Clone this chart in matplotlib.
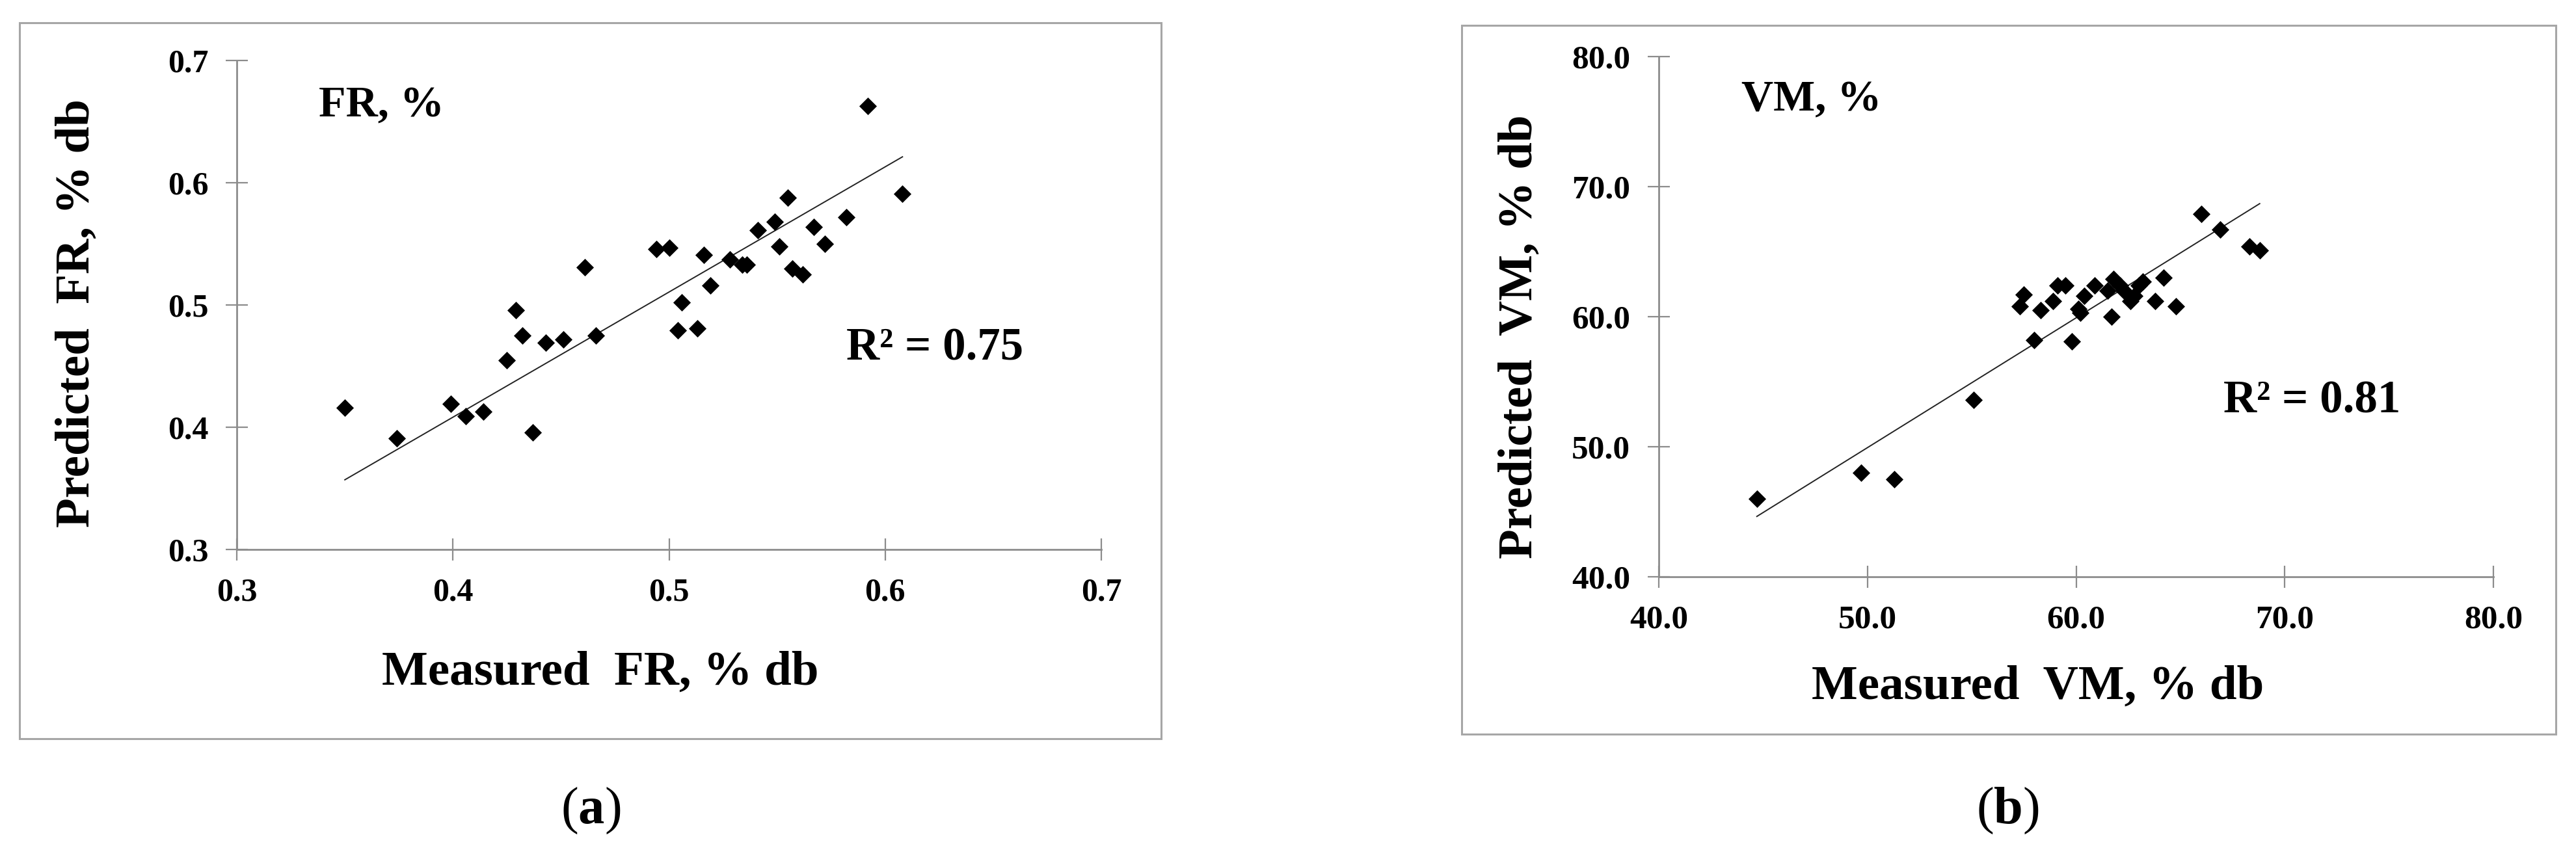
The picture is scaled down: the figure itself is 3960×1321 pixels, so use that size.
import numpy as np
import matplotlib
matplotlib.use("Agg")
import matplotlib.pyplot as plt
from matplotlib.patches import Rectangle

# (a) FR, measured vs predicted
fr_measured = [0.350, 0.374, 0.399, 0.406, 0.414, 0.437, 0.425, 0.429, 0.432, 0.443,
               0.451, 0.461, 0.466, 0.494, 0.500, 0.504, 0.506, 0.513, 0.516, 0.519,
               0.528, 0.534, 0.536, 0.541, 0.549, 0.551, 0.555, 0.557, 0.562, 0.567,
               0.572, 0.582, 0.592, 0.608]
fr_predicted = [0.416, 0.391, 0.419, 0.409, 0.413, 0.396, 0.455, 0.496, 0.475, 0.469,
                0.472, 0.531, 0.475, 0.546, 0.547, 0.479, 0.502, 0.481, 0.541, 0.516,
                0.537, 0.533, 0.533, 0.561, 0.568, 0.548, 0.588, 0.530, 0.525, 0.564,
                0.550, 0.572, 0.663, 0.591]
fr_trend = [1.024, -0.0014]   # slope, intercept of the drawn trendline

# (b) VM, measured vs predicted
vm_measured = [44.7, 49.7, 51.3, 55.1, 57.3, 57.5, 58.0, 58.3, 58.9, 59.1,
               59.5, 59.8, 60.1, 60.2, 60.4, 60.9, 61.5, 61.7, 61.8, 62.1,
               62.3, 62.6, 62.8, 63.0, 63.2, 63.8, 64.2, 64.8, 66.0, 66.9,
               68.3, 68.8]
vm_predicted = [46.0, 48.0, 47.5, 53.6, 60.8, 61.7, 58.2, 60.5, 61.2, 62.4,
                62.4, 58.1, 60.6, 60.3, 61.6, 62.4, 62.0, 60.0, 62.9, 62.4,
                62.0, 61.2, 61.6, 62.4, 62.7, 61.2, 63.0, 60.8, 67.9, 66.7,
                65.4, 65.1]
vm_trend = [0.998, 0.03]

fr_ticks = [0.3, 0.4, 0.5, 0.6, 0.7]
vm_ticks = [40.0, 50.0, 60.0, 70.0, 80.0]
r2_labels = ["R\u00b2 = 0.75", "R\u00b2 = 0.81"]

W, H = 3960, 1321
plt.rcParams['font.family'] = ['Liberation Serif', 'DejaVu Serif']
plt.rcParams['font.weight'] = 'bold'
plt.rcParams['mathtext.fontset'] = 'custom'
plt.rcParams['mathtext.rm'] = 'Liberation Serif'
plt.rcParams['mathtext.bf'] = 'Liberation Serif:bold'

fig = plt.figure(figsize=(W / 100, H / 100), dpi=100)
fig.patch.set_facecolor('white')


def fx(px):
    return px / W


def fy(py):
    return 1 - py / H


axis_grey = '#8c8c8c'
box_grey = '#a6a6a6'

# chart-area borders
for x0, y0, x1, y1 in [(30, 35, 1785, 1136), (2247, 39, 3929, 1129)]:
    fig.patches.append(Rectangle((fx(x0), fy(y1)), fx(x1) - fx(x0), fy(y0) - fy(y1),
                                 transform=fig.transFigure, fill=False,
                                 edgecolor=box_grey, linewidth=2.2))


def panel(rect, xs, ys, trend, ticks, fmt, tick_fs):
    ax = fig.add_axes(rect)
    ax.scatter(xs, ys, marker='D', s=190, color='black', zorder=3, linewidths=0)
    xx = np.array([min(xs), max(xs)])
    ax.plot(xx, trend[0] * xx + trend[1], color='#222222', linewidth=1.4, zorder=2)
    ax.set_xlim(ticks[0], ticks[-1])
    ax.set_ylim(ticks[0], ticks[-1])
    ax.set_xticks(ticks)
    ax.set_yticks(ticks)
    ax.set_xticklabels([fmt.format(t) for t in ticks])
    ax.set_yticklabels([fmt.format(t) for t in ticks])
    for s in ['top', 'right']:
        ax.spines[s].set_visible(False)
    for s in ['left', 'bottom']:
        ax.spines[s].set_color(axis_grey)
        ax.spines[s].set_linewidth(2.0)
    ax.tick_params(direction='inout', length=25, width=1.6, color=axis_grey,
                   labelsize=tick_fs, pad=19)
    for lab in ax.get_xticklabels() + ax.get_yticklabels():
        lab.set_fontweight('bold')
    ax.set_facecolor('none')
    return ax


ax_a = panel([fx(364), fy(845), fx(1693) - fx(364), fy(93) - fy(845)],
             fr_measured, fr_predicted, fr_trend, fr_ticks, '{:.1f}', 36)
ax_b = panel([fx(2550), fy(887), fx(3833) - fx(2550), fy(87) - fy(887)],
             vm_measured, vm_predicted, vm_trend, vm_ticks, '{:.1f}', 37)

lab_fs = 54
fig.text(fx(923), fy(1035), 'Measured  FR, % db', ha='center', va='center',
         fontsize=lab_fs, fontweight='bold')
fig.text(fx(119), fy(482), 'Predicted  FR, % db', ha='center', va='center',
         rotation=90, fontsize=lab_fs, fontweight='bold')
fig.text(fx(3133), fy(1057), 'Measured  VM, % db', ha='center', va='center',
         fontsize=lab_fs, fontweight='bold')
fig.text(fx(2337), fy(518), 'Predicted  VM, % db', ha='center', va='center',
         rotation=90, fontsize=lab_fs, fontweight='bold')

fig.text(fx(490), fy(163), 'FR, %', ha='left', va='center', fontsize=49, fontweight='bold')
fig.text(fx(2677), fy(154), 'VM, %', ha='left', va='center', fontsize=49, fontweight='bold')
fig.text(fx(1301), fy(536), r2_labels[0], ha='left', va='center', fontsize=51, fontweight='bold')
fig.text(fx(3418), fy(617), r2_labels[1], ha='left', va='center', fontsize=51, fontweight='bold')

fig.text(fx(908), fy(1247), r'($\mathbf{a}$)', ha='center', va='center', fontsize=58,
         fontweight='normal')
fig.text(fx(3086), fy(1247), r'($\mathbf{b}$)', ha='center', va='center', fontsize=58,
         fontweight='normal')

fig.savefig('out.png', dpi=100, facecolor='white')
